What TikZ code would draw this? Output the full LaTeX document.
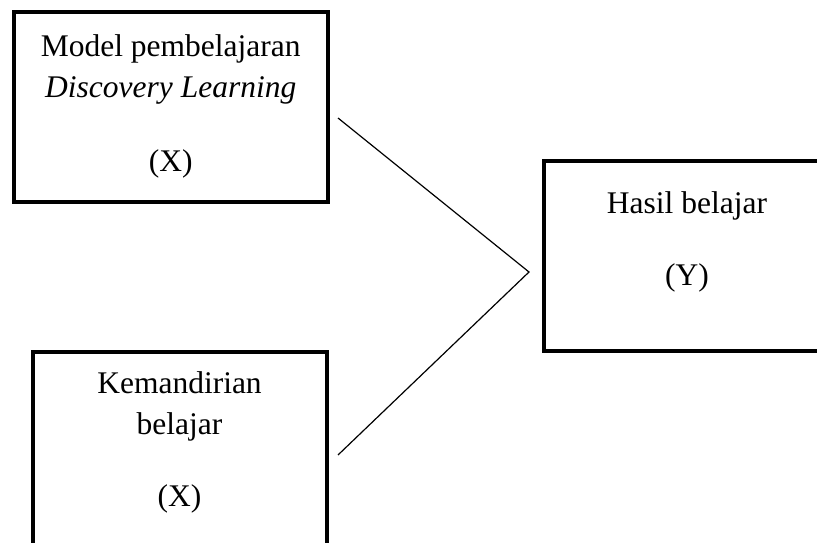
\documentclass[tikz,border=0pt]{standalone}
\usepackage{fontspec}
\setmainfont{Liberation Serif}
\usetikzlibrary{positioning}
\begin{document}
\begin{tikzpicture}[x=1pt,y=1pt,
    kotak/.style={draw,line width=4pt,inner sep=0pt},
    isi/.style={align=center,inner sep=0pt,font={\fontsize{31.5}{41}\selectfont}}]
    \useasboundingbox(0,0)rectangle(817,542);
    \clip(0,0)rectangle(817,542);
    %kotak X (model)
    \node[kotak,minimum width=313.5pt,minimum height=190pt](x1)at(170.75,435.3){};
    \node[isi,below=25pt of x1.north](t1){Model pembelajaran\\ \textit{Discovery Learning}\\[33pt] (X)};
    %kotak X (kemandirian)
    \node[kotak,minimum width=294pt,minimum height=230pt](x2)at(179.5,75.3){};
    \node[isi,below=22pt of x2.north](t2){Kemandirian\\ belajar\\[31pt] (X)};
    %kotak Y
    \node[kotak,minimum width=286pt,minimum height=189.7pt](y)at(687,286.35){};
    \node[isi,below=33pt of y.north](t3){Hasil belajar\\[31pt] (Y)};
    %garis
    \coordinate(p1)at(338,424);
    \coordinate(p2)at(338,87);
    \coordinate(temu)at(529,270);
    \draw[line width=1.2pt](p1)--(temu)--(p2);
\end{tikzpicture}
\end{document}
